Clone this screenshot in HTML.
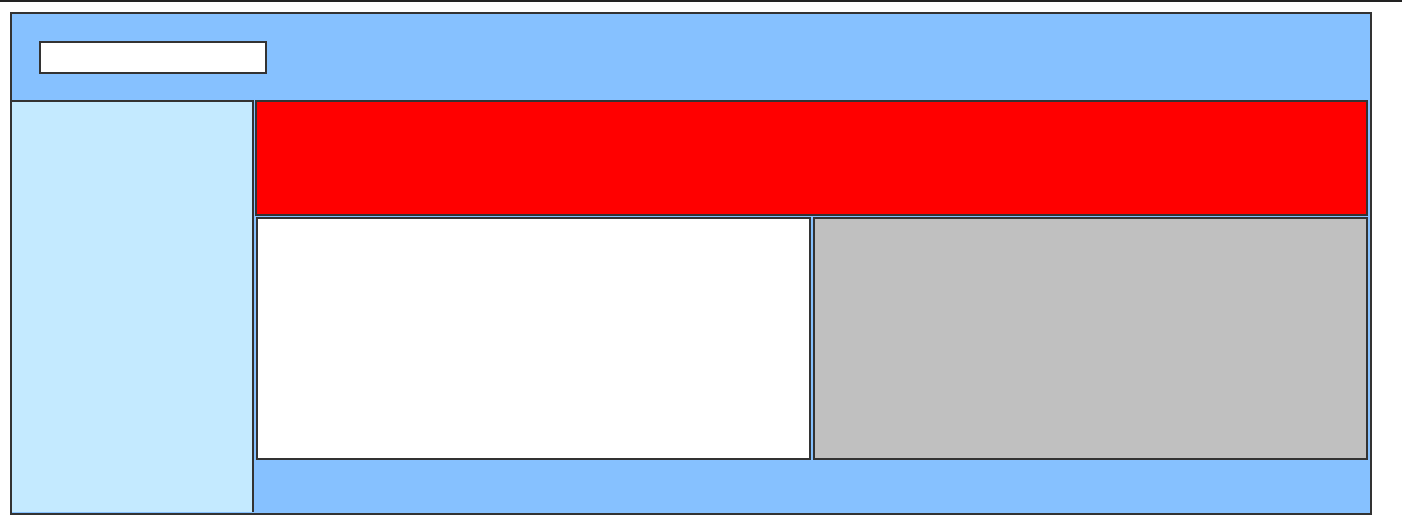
<!DOCTYPE html>
<html><head><meta charset="utf-8"><style>
html,body{margin:0;padding:0;width:1402px;height:531px;background:#fff;overflow:hidden;position:relative;font-family:"Liberation Sans",sans-serif}
div{position:absolute;box-sizing:border-box}
</style></head><body>
<div style="left:0;top:0;width:1402px;height:2px;background:#222"></div>
<div style="left:10px;top:12px;width:1362px;height:503px;background:#86c1ff;border:2px solid #333"></div>
<div style="left:39px;top:41px;width:228px;height:33px;background:#fff;border:2px solid #333"></div>
<div style="left:12px;top:100px;width:242px;height:412px;background:#c4eaff;border-top:2px solid #333;border-right:2px solid #333"></div>
<div style="left:255px;top:100px;width:1113px;height:116px;background:#ff0000;border:2px solid #333"></div>
<div style="left:256px;top:217px;width:555px;height:243px;background:#fff;border:2px solid #333"></div>
<div style="left:813px;top:217px;width:555px;height:243px;background:#c0c0c0;border:2px solid #333"></div>
</body></html>
